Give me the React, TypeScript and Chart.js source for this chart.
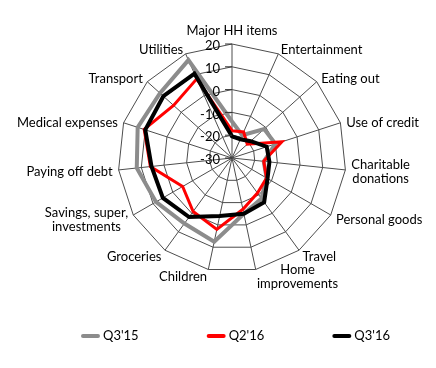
import React, { useEffect, useRef } from 'react';
import { Chart, registerables } from 'chart.js';

Chart.register(...registerables);

const categories: (string | string[])[] = [
  'Major HH items',
  'Entertainment',
  'Eating out',
  'Use of credit',
  ['Charitable', 'donations'],
  'Personal goods',
  'Travel',
  ['Home', 'improvements'],
  'Children',
  'Groceries',
  ['Savings, super,', 'investments'],
  'Paying off debt',
  'Medical expenses',
  'Transport',
  'Utilities',
];

const q3_15 = [-14, -19, -11, -10, -16, -12.5, -8, -5, 7.5, 5.5, 8.5, 12, 13.5, 12.5, 17];
const q2_16 = [-18, -17.5, -21, -7, -16, -12.5, -11, -7, 2, -1, -5, 6, 10.5, 4.5, 8];
const q3_16 = [-20.5, -21, -19, -14, -13.5, -12, -6, -5, -4, 2, 5, 5.5, 10, 10.5, 10.5];

const axisMin = -30;
const axisMax = 20;
const axisStep = 10;

const seriesNames = ["Q3'15", "Q2'16", "Q3'16"];

const FONT = '13px Lato, "Liberation Sans", sans-serif';

const overlayPlugin = {
  id: 'overlay',
  afterDraw(chart: any) {
    const ctx: CanvasRenderingContext2D = chart.ctx;
    const r = chart.scales.r;
    const xc = r.xCenter;
    const yc = r.yCenter;
    ctx.save();
    ctx.font = FONT;
    ctx.fillStyle = '#000';

    // value axis ticks and labels
    ctx.strokeStyle = '#333';
    ctx.lineWidth = 1;
    r.ticks.forEach((t: any) => {
      const y = yc - r.getDistanceFromCenterForValue(t.value);
      ctx.beginPath();
      ctx.moveTo(xc - 7, y);
      ctx.lineTo(xc, y);
      ctx.stroke();
      ctx.textAlign = 'right';
      ctx.textBaseline = 'middle';
      ctx.fillText(String(t.value), xc - 12, y + 2);
    });

    // category labels
    const labels = chart.data.labels as (string | string[])[];
    const n = labels.length;
    const lh = 14;
    labels.forEach((lab, i) => {
      const lines = Array.isArray(lab) ? lab : [lab];
      const p = r.getPointPosition(i, r.drawingArea + 6);
      const s = Math.sin((i * 2 * Math.PI) / n);
      const bw = Math.max(...lines.map((l) => ctx.measureText(l).width));
      let left: number;
      if (s > 0.05) left = p.x;
      else if (s < -0.05) left = p.x - bw;
      else left = p.x - bw / 2;
      const top = i === 0 ? p.y - lines.length * lh : p.y + 1.5 - (lines.length * lh) / 2;
      ctx.textAlign = 'center';
      ctx.textBaseline = 'middle';
      lines.forEach((l, k) => ctx.fillText(l, left + bw / 2, top + lh * k + lh / 2));
    });

    // legend
    const ds = chart.data.datasets;
    const lineLen = 19;
    const gapText = 3;
    const gap = 68;
    const widths = ds.map((d: any) => lineLen + gapText + ctx.measureText(d.label).width);
    const total = widths.reduce((a: number, b: number) => a + b, 0) + gap * (ds.length - 1);
    let x = 235.5 - total / 2;
    const ly = chart.height - 32;
    ds.forEach((d: any, k: number) => {
      ctx.strokeStyle = d.borderColor;
      ctx.lineWidth = 4;
      ctx.lineCap = 'round';
      ctx.beginPath();
      ctx.moveTo(x + 2, ly);
      ctx.lineTo(x + lineLen - 2, ly);
      ctx.stroke();
      ctx.fillStyle = '#000';
      ctx.textAlign = 'left';
      ctx.textBaseline = 'middle';
      ctx.fillText(d.label, x + lineLen + gapText, ly);
      x += widths[k] + gap;
    });
    ctx.restore();
  },
};

export default function App() {
  const ref = useRef<HTMLCanvasElement | null>(null);

  useEffect(() => {
    document.body.style.margin = '0';
    const canvas = ref.current;
    if (!canvas) return;
    const chart = new Chart(canvas, {
      type: 'radar',
      data: {
        labels: categories,
        datasets: [
          {
            label: seriesNames[0],
            data: q3_15,
            borderColor: '#8c8c8c',
            borderWidth: 4,
            fill: false,
            pointRadius: 0,
            order: 2,
          },
          {
            label: seriesNames[1],
            data: q2_16,
            borderColor: '#ff0000',
            borderWidth: 3,
            fill: false,
            pointRadius: 0,
            order: 1,
          },
          {
            label: seriesNames[2],
            data: q3_16,
            borderColor: '#000000',
            borderWidth: 4,
            fill: false,
            pointRadius: 0,
            order: 0,
          },
        ],
      },
      options: {
        responsive: false,
        animation: false,
        devicePixelRatio: 1,
        layout: { padding: { left: 118, right: 90, top: 44, bottom: 96 } },
        plugins: { legend: { display: false }, tooltip: { enabled: false } },
        elements: { line: { tension: 0, borderJoinStyle: 'miter' } },
        scales: {
          r: {
            min: axisMin,
            max: axisMax,
            ticks: { stepSize: axisStep, display: false },
            grid: { color: '#4d4d4d', lineWidth: 1, circular: false },
            angleLines: { color: '#4d4d4d', lineWidth: 1 },
            pointLabels: { display: false },
          },
        },
      },
      plugins: [overlayPlugin],
    });
    const fonts = (document as any).fonts;
    if (fonts && fonts.load) {
      fonts.load(FONT).then(() => chart.draw()).catch(() => {});
    }
    return () => chart.destroy();
  }, []);

  return (
    <div style={{ width: 436, height: 368, background: '#fff' }}>
      <canvas ref={ref} width={436} height={368} style={{ display: 'block', width: 436, height: 368 }} />
    </div>
  );
}
